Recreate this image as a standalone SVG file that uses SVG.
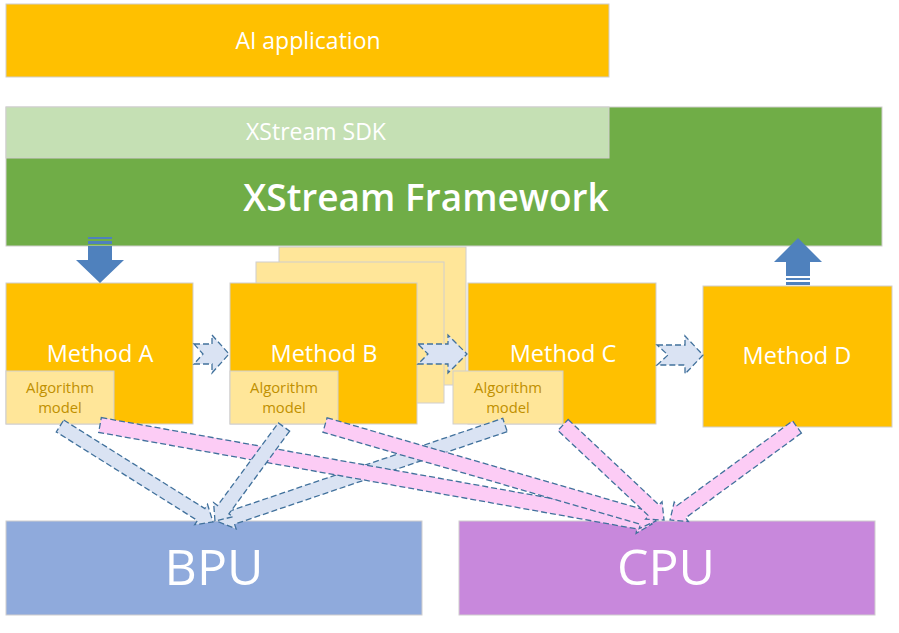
<svg xmlns="http://www.w3.org/2000/svg" width="899" height="633" viewBox="0 0 899 633">
<style>
.box{stroke:#D0CECE;stroke-width:1}
.orange{fill:#FFC000}
.light{fill:#FFE699}
.t{font-family:"Open Sans","Noto Sans","Liberation Sans",sans-serif;fill:#FFFFFF;text-anchor:middle}
.am{font-family:"Open Sans","Noto Sans","Liberation Sans",sans-serif;fill:#BF9000;font-size:14.8px;text-anchor:middle}
.ba{fill:#DAE3F3;stroke:#41719C;stroke-width:1.3;stroke-dasharray:6 3}
.pa{fill:#FCCCF5;stroke:#41719C;stroke-width:1.3;stroke-dasharray:6 3}
.bigarrow{fill:#4F81BD}
</style>
<rect width="899" height="633" fill="#FFFFFF"/>

<g id="ai-application">
<rect class="box orange" x="6" y="4" width="603" height="73"/>
<text class="t" x="308" y="49" font-size="23">AI application</text>
</g>

<g id="xstream-framework">
<rect class="box" x="6" y="107" width="876" height="139" fill="#70AD47"/>
<text class="t" x="426" y="211" font-size="37" font-weight="600">XStream Framework</text>
</g>

<g id="xstream-sdk">
<rect class="box" x="6" y="107" width="603" height="51" fill="#C5E0B4"/>
<text class="t" x="316" y="140" font-size="23">XStream SDK</text>
</g>

<g id="stack-back">
<rect class="box light" x="279" y="247" width="187" height="138"/>
<rect class="box light" x="256" y="262" width="188" height="141"/>
</g>

<g id="method-a">
<rect class="box orange" x="6" y="283" width="187" height="141"/>
<text class="t" x="100" y="362" font-size="23.5">Method A</text>
<rect class="box light" x="6" y="371" width="108" height="53"/>
<text class="am" x="60" y="393">Algorithm</text>
<text class="am" x="60" y="413">model</text>
</g>

<g id="method-b">
<rect class="box orange" x="230" y="283" width="187" height="141"/>
<text class="t" x="324" y="362" font-size="23.5">Method B</text>
<rect class="box light" x="230" y="371" width="108" height="53"/>
<text class="am" x="284" y="393">Algorithm</text>
<text class="am" x="284" y="413">model</text>
</g>

<g id="method-c">
<rect class="box orange" x="468" y="283" width="188" height="141"/>
<text class="t" x="563" y="362" font-size="23.5">Method C</text>
<rect class="box light" x="453" y="371" width="110" height="53"/>
<text class="am" x="508" y="393">Algorithm</text>
<text class="am" x="508" y="413">model</text>
</g>

<g id="method-d">
<rect class="box orange" x="703" y="286" width="189" height="141"/>
<text class="t" x="797" y="364" font-size="23.5">Method D</text>
</g>

<g id="bpu">
<rect class="box" x="6" y="521" width="416" height="94" fill="#8FAADC"/>
<text class="t" x="214" y="585" font-size="50">BPU</text>
</g>

<g id="cpu">
<rect class="box" x="459" y="521" width="416" height="94" fill="#C888DC"/>
<text class="t" x="666" y="585" font-size="50">CPU</text>
</g>

<g id="connectors">
<!-- framework to Method A -->
<rect class="bigarrow" x="88" y="237" width="24" height="2"/>
<rect class="bigarrow" x="88" y="241" width="24" height="3"/>
<polygon class="bigarrow" points="88,246 112,246 112,260 124,260 100,283 76,260 88,260"/>
<!-- Method D to framework -->
<polygon class="bigarrow" points="798,238 822,262 810,262 810,276 786,276 786,262 774,262"/>
<rect class="bigarrow" x="786" y="278" width="24" height="2"/>
<rect class="bigarrow" x="786" y="282" width="24" height="3"/>

<!-- method chain -->
<polygon class="ba" points="194,344 212,344 212,335 229,354 212,373 212,364 194,364 203,354"/>
<polygon class="ba" points="418,344 448,344 448,335 467,354 448,373 448,364 418,364 428,354"/>
<polygon class="ba" points="657,345 685,345 685,336 703,355 685,374 685,365 657,365 668,355"/>

<!-- to BPU / CPU -->
<path class="ba" transform="translate(505,425) rotate(161.26)" d="M0,-7 H288 V-12 L302,0 L288,12 V7 H0 Z"/>
<path class="pa" transform="translate(100,425) rotate(10.17)" d="M0,-7.5 H546.8 V-12 L560.8,0 L546.8,12 V7.5 H0 Z"/>
<path class="pa" transform="translate(325,425) rotate(16.17)" d="M0,-7.5 H330.6 V-12 L344.6,0 L330.6,12 V7.5 H0 Z"/>
<path class="pa" transform="translate(563,425) rotate(43.25)" d="M0,-7.5 H124.7 V-12 L138.7,0 L124.7,12 V7.5 H0 Z"/>
<path class="pa" transform="translate(797,427) rotate(143.78)" d="M0,-7.5 H143.4 V-12 L157.4,0 L143.4,12 V7.5 H0 Z"/>
<path class="ba" transform="translate(60,426) rotate(32.1)" d="M0,-7 H166.6 V-12 L180.6,0 L166.6,12 V7 H0 Z"/>
<path class="ba" transform="translate(284,427) rotate(126.3)" d="M0,-7 H102.6 V-12 L116.6,0 L102.6,12 V7 H0 Z"/>
</g>
</svg>
